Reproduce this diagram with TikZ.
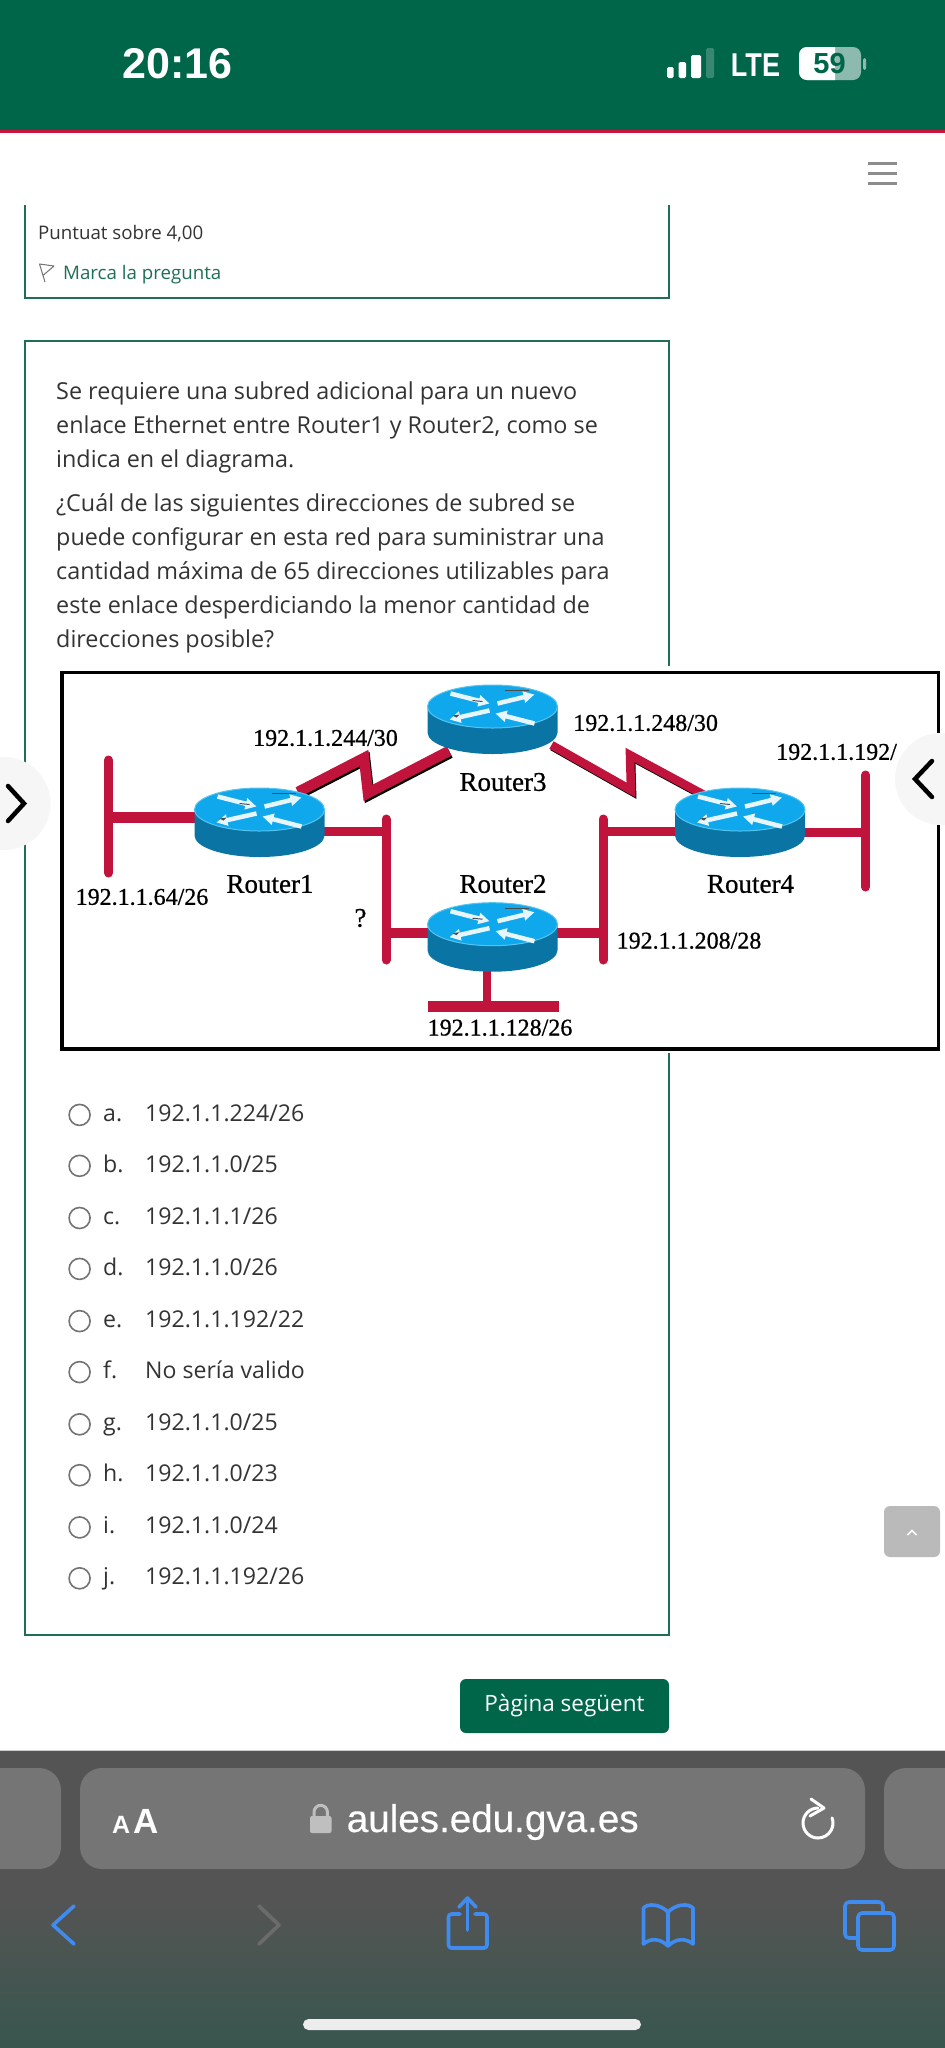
\documentclass[tikz,border=0pt]{standalone}
\usepackage{fontspec}
\setmainfont{Open Sans}
\newfontfamily\sysfont{Liberation Sans}
\newfontfamily\urlfont[FakeBold=0.35]{Liberation Sans}
\newfontfamily\netfont[FakeBold=0.7]{Liberation Serif}
\usetikzlibrary{arrows.meta}
\definecolor{barGreen}{HTML}{00664A}
\definecolor{barRed}{HTML}{C8173A}
\definecolor{cardLine}{HTML}{1F6F57}
\definecolor{ink}{HTML}{333333}
\definecolor{netRed}{HTML}{C0143C}
\definecolor{rtTop}{HTML}{10A8EC}
\definecolor{rtRim}{HTML}{55C4EE}
\definecolor{rtSide}{HTML}{0A74A4}
\definecolor{iosBlue}{HTML}{3F8BEF}
\definecolor{urlGray}{HTML}{757575}
\definecolor{overlay}{HTML}{F6F6F6}
\newcommand{\routerdraw}[1]{%
  \begin{scope}[shift={(#1)}]
    \fill[rtSide] (-65,0) -- (-65,26) arc[start angle=180,end angle=360,x radius=65pt,y radius=21.5pt] -- (65,0) -- cycle;
    \draw[rtRim,fill=rtTop,line width=1pt] (0,0) ellipse[x radius=65pt,y radius=21.5pt];
    \foreach \xa/\ya/\xb/\yb in {-42/-13/-3/-3, 5/-3/42/-12, -3/4/-43/13, 42/17/3/7}{
      \draw[white!90!rtTop,line width=4.5pt,-{Triangle[length=11pt,width=11pt]}] (\xa,\ya) -- (\xb,\yb);
    }
    \fill[black!70] (-40,9) -- (-33,8) -- (-36,11) -- cycle;
    \draw[black!70,line width=1pt] (-20,-6) -- (-10,-5);
    \draw[black!70,line width=1.2pt] (12,-16) -- (36,-16);
  \end{scope}}
\tikzset{
  x=1pt,y=-1pt,
  qtext/.style={anchor=base west,inner sep=0,text=ink,font=\fontsize{23.35}{28}\selectfont},
  optlabel/.style={anchor=base west,inner sep=0,text=ink,font=\fontsize{23.1}{28}\selectfont},
  radio/.style={circle,draw=black!55,line width=1.6pt,minimum size=21pt,inner sep=0},
  nettext/.style={inner sep=0,text=black,font=\netfont\fontsize{24}{26}\selectfont},
  rtlabel/.style={inner sep=0,text=black,font=\netfont\fontsize{27}{29}\selectfont},
  ethernet/.style={draw=netRed,line width=9.5pt},
  busbar/.style={draw=netRed,line width=9pt,line cap=round},
  serialred/.style={draw=netRed,line width=10.5pt,miter limit=10},
  serialshadow/.style={draw=black,line width=10.5pt,miter limit=10},
  cardframe/.style={draw=cardLine,line width=2pt},
  iosicon/.style={draw=iosBlue,line width=3.6pt,line cap=round,line join=round},
  routerhalo/.style={fill=overlay},
  chev/.style={draw=black,line width=4.5pt,line cap=round,line join=miter}
}
\begin{document}
\begin{tikzpicture}
\useasboundingbox (0,0) rectangle (945,2048);
\fill[white] (0,0) rectangle (945,2048);

% status bar
\fill[barGreen] (0,0) rectangle (945,130);
\fill[barRed] (0,130) rectangle (945,133);
\node[inner sep=0,text=white,font=\sysfont\bfseries\fontsize{43}{46}\selectfont] (clock) at (177.5,64) {20:16};
\fill[white,rounded corners=1.5pt] (667,67) rectangle (673.5,78);
\fill[white,rounded corners=1.5pt] (678.5,62) rectangle (686,78);
\fill[white,rounded corners=1.5pt] (691,55) rectangle (701,78);
\fill[white,opacity=.22,rounded corners=1.5pt] (706,48) rectangle (714,78);
\node[inner sep=0,text=white,xscale=.82,transform shape,font=\sysfont\bfseries\fontsize{33}{35}\selectfont] (lte) at (755.5,65) {LTE};
\fill[white!55!barGreen,rounded corners=8pt] (799,47) rectangle (861,80);
\begin{scope}
\clip (799,40) rectangle (835,90);
\fill[white,rounded corners=8pt] (799,47) rectangle (861,80);
\end{scope}
\fill[white!55!barGreen,rounded corners=1.5pt] (863,58) rectangle (866,70);
\node[inner sep=0,text=barGreen,font=\sysfont\bfseries\fontsize{29}{30}\selectfont] (batt) at (829.5,64) {59};

% menu
\foreach \yy in {163,173,183}{\fill[black!45] (868,\yy-1.5) rectangle (897,\yy+1.5);}

% first card
\draw[cardframe] (25,205) -- (25,298) -- (668.5,298) -- (668.5,205);
\node[anchor=base west,inner sep=0,text=ink,font=\fontsize{18.7}{22}\selectfont] (score) at (38,239) {Puntuat sobre 4,00};
\draw[black!55,line width=1pt,line join=round] (45,282) -- (39.5,264) -- (54,266) -- (43.5,275);
\node[anchor=base west,inner sep=0,text=cardLine,font=\fontsize{18.7}{22}\selectfont] (flagtxt) at (63,279) {Marca la pregunta};

% second card
\draw[cardframe] (25,341) rectangle (668.5,1635);
\fill[white] (667,666) rectangle (670,1053);

% question text
\node[qtext] (q1) at (56,399) {Se requiere una subred adicional para un nuevo};
\node[qtext] (q2) at (56,433) {enlace Ethernet entre Router1 y Router2, como se};
\node[qtext] (q3) at (56,467) {indica en el diagrama.};
\node[qtext] (q4) at (56,511.5) {¿Cuál de las siguientes direcciones de subred se};
\node[qtext] (q5) at (56,545.5) {puede configurar en esta red para suministrar una};
\node[qtext] (q6) at (56,579.5) {cantidad máxima de 65 direcciones utilizables para};
\node[qtext] (q7) at (56,613) {este enlace desperdiciando la menor cantidad de};
\node[qtext] (q8) at (56,647) {direcciones posible?};

% diagram
\draw[black,line width=3.5pt,fill=white] (62,672.7) rectangle (938.5,1049);
\coordinate (r1) at (259.5,809.5);
\coordinate (r2) at (492.5,924.2);
\coordinate (r3) at (492.5,706.5);
\coordinate (r4) at (740,809.5);
% left LAN
\coordinate (lanAtop) at (108.5,760);
\coordinate (lanAbot) at (108.5,873);
\coordinate (lanAmid) at (108.5,817.7);
\coordinate (r1west) at (259,817.7);
\draw[busbar] (lanAtop) -- (lanAbot);
\draw[ethernet,line width=10.5pt] (lanAmid) -- (r1west);
% new link
\coordinate (q1top) at (386,819);
\coordinate (q1bot) at (386,960);
\coordinate (q1r1) at (386,831.7);
\coordinate (r1east) at (259,831.7);
\coordinate (q1r2) at (386,933);
\coordinate (r2west) at (492.5,933);
\draw[busbar] (q1top) -- (q1bot);
\draw[ethernet] (r1east) -- (q1r1);
\draw[ethernet] (q1r2) -- (r2west);
% 208 link
\coordinate (qtop) at (603,819);
\coordinate (qbot) at (603,960);
\coordinate (qr2) at (603,933);
\coordinate (r2east) at (492.5,933);
\coordinate (qr4) at (603,831.7);
\coordinate (r4west) at (740,831.7);
\draw[busbar] (qtop) -- (qbot);
\draw[ethernet] (r2east) -- (qr2);
\draw[ethernet] (qr4) -- (r4west);
% right LAN
\coordinate (rtop) at (865.6,775);
\coordinate (rbot) at (865.6,887);
\coordinate (rmid) at (865.6,832.7);
\coordinate (r4east) at (740,832.7);
\draw[busbar] (rtop) -- (rbot);
\draw[ethernet] (r4east) -- (rmid);
% bottom LAN
\coordinate (bmid) at (487,1006);
\coordinate (bleft) at (428,1006);
\coordinate (bright) at (559,1006);
\coordinate (r2south) at (487,940);
\draw[ethernet,line width=8pt] (r2south) -- (bmid);
\draw[ethernet,line width=11pt] (bleft) -- (bright);
% serial links
\coordinate (s1a) at (298,792);
\coordinate (s1b) at (364,758);
\coordinate (s1c) at (368,793);
\coordinate (s1d) at (449,751);
\coordinate (s2a) at (551.5,745);
\coordinate (s2b) at (631,790);
\coordinate (s2c) at (630,755);
\coordinate (s2d) at (706,796);
\draw[serialshadow] ([shift={(1.2,2)}]s1a) -- ([shift={(1.2,2)}]s1b) -- ([shift={(1.2,2)}]s1c) -- ([shift={(1.2,2)}]s1d);
\draw[serialred] (s1a) -- (s1b) -- (s1c) -- (s1d);
\draw[serialshadow,line width=8.5pt] ([shift={(1,1.5)}]s2a) -- ([shift={(1,1.5)}]s2b) -- ([shift={(1,1.5)}]s2c) -- ([shift={(1,1.5)}]s2d);
\draw[serialred,line width=8.5pt] (s2a) -- (s2b) -- (s2c) -- (s2d);
% routers
\routerdraw{r1}
\routerdraw{r2}
\routerdraw{r3}
\routerdraw{r4}
% labels
\node[nettext] (l244) at (325.5,738) {192.1.1.244/30};
\node[nettext] (l248) at (645.6,723) {192.1.1.248/30};
\node[nettext,anchor=west] (l192) at (776,752) {192.1.1.192/};
\node[rtlabel] (lr3) at (503,782) {Router3};
\node[rtlabel] (lr1) at (270,884) {Router1};
\node[rtlabel] (lr2) at (503,884) {Router2};
\node[rtlabel] (lr4) at (750.5,884) {Router4};
\node[nettext] (l64) at (142,897) {192.1.1.64/26};
\node[rtlabel] (lq) at (360.5,918) {?};
\node[nettext] (l208) at (689,940.7) {192.1.1.208/28};
\node[nettext] (l128) at (500,1027.7) {192.1.1.128/26};

% side overlays
\fill[routerhalo] (4,803.5) circle[radius=46.5pt];
\draw[chev] (8,786) -- (24,803.5) -- (8,821);
\fill[routerhalo] (941,779) circle[radius=46pt];
\draw[chev] (932,761) -- (915,779) -- (932,797);

% options
\foreach \nm/\yy/\optl/\optv in {
  a/1114.9/a./192.1.1.224\slash 26,
  b/1165.8/b./192.1.1.0\slash 25,
  c/1218/c./192.1.1.1\slash 26,
  d/1268.9/d./192.1.1.0\slash 26,
  e/1321.1/e./192.1.1.192\slash 22,
  f/1372.1/f./No sería valido,
  g/1424.3/g./192.1.1.0\slash 25,
  h/1475.2/h./192.1.1.0\slash 23,
  i/1527.4/i./192.1.1.0\slash 24,
  j/1578.3/j./192.1.1.192\slash 26}{
  \node[radio] (rad\nm) at (79.6,\yy) {};
  \node[optlabel] (let\nm) at (103,\yy+6.2) {\optl};
  \node[optlabel] (val\nm) at (145,\yy+6.2) {\optv};
}

% scroll-top
\fill[black!27,rounded corners=6pt] (884,1506) rectangle (940,1557);
\draw[white,line width=1.5pt] (907.5,1535) -- (912,1530.5) -- (916.5,1535);

% next button
\node[fill=barGreen,rounded corners=6pt,minimum width=209pt,minimum height=54pt,inner sep=0,text=white,font=\fontsize{22.5}{24}\selectfont] (nextbtn) at (564.5,1706) {Pàgina següent};

% bottom bar
\shade[top color=black!67,bottom color=black!67] (0,1751) rectangle (945,1900);
\shade[top color=black!67,bottom color=barGreen!38!black!78] (0,1900) rectangle (945,2048);
\fill[black!20] (0,1750) rectangle (945,1751);
\fill[urlGray,rounded corners=22pt] (-40,1768) rectangle (61,1869);
\fill[urlGray,rounded corners=22pt] (884,1768) rectangle (990,1869);
\fill[urlGray,rounded corners=22pt] (80,1768) rectangle (865,1869);
\node[anchor=base west,inner sep=0,text=white,font=\sysfont\bfseries\fontsize{25}{28}\selectfont] (aasmall) at (112,1833) {A};
\node[anchor=base west,inner sep=0,text=white,font=\sysfont\bfseries\fontsize{35}{38}\selectfont] (aabig) at (133,1833) {A};
\fill[black!25,rounded corners=2pt] (310,1816) rectangle (331.5,1833);
\draw[black!25,line width=3pt] (314,1817) -- (314,1812) arc[start angle=180,end angle=0,radius=6.7pt] -- (327.4,1817);
\node[anchor=base west,inner sep=0,text=white,font=\urlfont\fontsize{38.6}{42}\selectfont] (url) at (346.6,1832) {aules.edu.gva.es};
\draw[white,line width=3pt,line cap=round] (818,1808) arc[start angle=90,end angle=380,radius=15pt];
\draw[white,line width=3pt,line cap=round,line join=round] (811,1799) -- (824,1808) -- (810,1816);

% ios icons
\draw[iosicon] (74,1906) -- (53,1925) -- (74,1944);
\draw[iosicon,draw=black!58] (259,1906) -- (279,1925) -- (259,1944);
\draw[iosicon,rounded corners=3pt] (460,1914) -- (448.5,1914) -- (448.5,1948) -- (487,1948) -- (487,1914) -- (475,1914);
\draw[iosicon] (467.5,1930) -- (467.5,1899);
\draw[iosicon] (459,1907) -- (467.5,1898) -- (476,1907);
\draw[iosicon] (668,1912) .. controls (660,1904) and (648,1903) .. (643.5,1908) -- (643.5,1944) .. controls (650,1938) and (660,1938) .. (668,1946) .. controls (676,1938) and (686,1938) .. (693,1944) -- (693,1908) .. controls (688,1903) and (676,1904) .. (668,1912) -- (668,1946);
\draw[iosicon,rounded corners=4pt] (883,1912) -- (883,1902) -- (845,1902) -- (845,1938) -- (857,1938);
\draw[iosicon,rounded corners=4pt] (858,1913) rectangle (894,1950);
% home indicator
\fill[black!7,rounded corners=5.5pt] (303,2019) rectangle (641,2030);
\end{tikzpicture}
\end{document}
